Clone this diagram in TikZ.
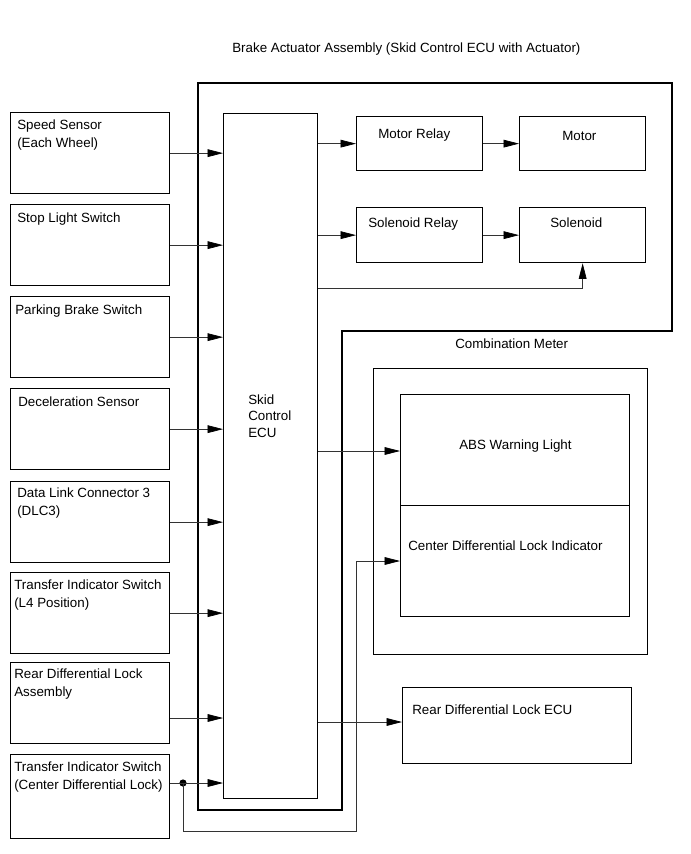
\documentclass[tikz,border=0pt]{standalone}
\usepackage{fontspec}
\setmainfont{Liberation Sans}
\usetikzlibrary{arrows.meta}

\begin{document}
\begin{tikzpicture}[
			x=0.025cm,y=-0.025cm,
			font=\fontsize{9.5}{12.1}\selectfont,
			blk/.style={draw=black,line width=0.9pt,inner sep=0pt,anchor=north west},
			inbox/.style={blk,minimum width=3.975cm,minimum height=2.025cm},
			txt/.style={anchor=base west,align=left,inner sep=0pt},
			sig/.style={-{Triangle[length=11pt,width=5.5pt,color=black]},draw=black!80,line width=0.5pt},
			frame/.style={draw=black,line width=0.9pt},
			dot/.style={circle,fill=black,inner sep=0pt,minimum size=0.18cm}]
			\useasboundingbox (0,0) rectangle (690,854);
			\draw[frame] (198,83)--(672,83)--(672,331)--(342,331)--(342,810)--(198,810)--cycle;
			\node[txt] (act-t) at (232,53) {Brake Actuator Assembly (Skid Control ECU with Actuator)};
			\node[inbox] (spd) at (10,112) {};
			\node[inbox] (stp) at (10,204) {};
			\node[inbox] (pkb) at (10,296) {};
			\node[inbox] (dec) at (10,388) {};
			\node[inbox] (dlc) at (10,481) {};
			\node[inbox] (tl4) at (10,572) {};
			\node[inbox] (rda) at (10,662) {};
			\node[inbox,minimum height=2.1cm] (tcd) at (10,754) {};
			\node[txt] (spd-t) at (17,147) {Speed Sensor\\(Each Wheel)};
			\node[txt] (stp-t) at (17,222) {Stop Light Switch};
			\node[txt] (pkb-t) at (15,314) {Parking Brake Switch};
			\node[txt] (dec-t) at (18,406) {Deceleration Sensor};
			\node[txt] (dlc-t) at (17,515) {Data Link Connector 3\\(DLC3)};
			\node[txt] (tl4-t) at (14,607) {Transfer Indicator Switch\\(L4 Position)};
			\node[txt] (rda-t) at (14,696) {Rear Differential Lock\\Assembly};
			\node[txt] (tcd-t) at (14,789) {Transfer Indicator Switch\\(Center Differential Lock)};
			\node[blk,minimum width=2.35cm,minimum height=17.125cm] (ecu) at (223,113) {};
			\node[txt,font=\fontsize{9.5}{11.4}\selectfont] (ecu-t) at (248,437) {Skid\\Control\\ECU};
			\node[blk,minimum width=3.15cm,minimum height=1.35cm] (mrly) at (356,116) {};
			\node[blk,minimum width=3.15cm,minimum height=1.35cm] (mot) at (519,116) {};
			\node[blk,minimum width=3.15cm,minimum height=1.375cm] (srly) at (356,207) {};
			\node[blk,minimum width=3.15cm,minimum height=1.375cm] (sol) at (519,207) {};
			\node[txt] (mrly-t) at (378,138) {Motor Relay};
			\node[txt] (mot-t) at (562,140) {Motor};
			\node[txt] (srly-t) at (368,227) {Solenoid Relay};
			\node[txt] (sol-t) at (550,227) {Solenoid};
			\node[blk,minimum width=6.85cm,minimum height=7.15cm] (cmb) at (373,368) {};
			\node[txt] (cmb-t) at (455,348) {Combination Meter};
			\node[blk,minimum width=5.725cm,minimum height=2.775cm] (abs) at (400,394) {};
			\node[blk,minimum width=5.725cm,minimum height=2.775cm] (cdl) at (400,505) {};
			\node[txt] (abs-t) at (459,449) {ABS Warning Light};
			\node[txt] (cdl-t) at (408,550) {Center Differential Lock Indicator};
			\node[blk,minimum width=5.725cm,minimum height=1.9cm] (rec) at (402,687) {};
			\node[txt] (rec-t) at (412,714) {Rear Differential Lock ECU};
			\draw[sig] (spd)--(spd-|ecu.west);
			\draw[sig] (stp)--(stp-|ecu.west);
			\draw[sig] (pkb)--(pkb-|ecu.west);
			\draw[sig] (dec)--(dec-|ecu.west);
			\draw[sig] (dlc)--(dlc-|ecu.west);
			\draw[sig] (tl4)--(tl4-|ecu.west);
			\draw[sig] (rda.east|-0,718)--(ecu.west|-0,718);
			\node[dot] (jn) at (183,783) {};
			\draw[sig] (tcd.east|-jn)--(jn-|ecu.west);
			\draw[sig] (jn.center)|-(356,831)|-(cdl.west|-0,561);
			\draw[sig] (ecu.east|-mrly)--(mrly);
			\draw[sig] (mrly)--(mot);
			\draw[sig] (ecu.east|-srly)--(srly);
			\draw[sig] (srly)--(sol);
			\draw[sig] (ecu.east|-0,288)-|(sol.south);
			\draw[sig] (ecu.east|-0,451)--(abs.west|-0,451);
			\draw[sig] (ecu.east|-0,722)--(rec.west|-0,722);
		\end{tikzpicture}
\end{document}
